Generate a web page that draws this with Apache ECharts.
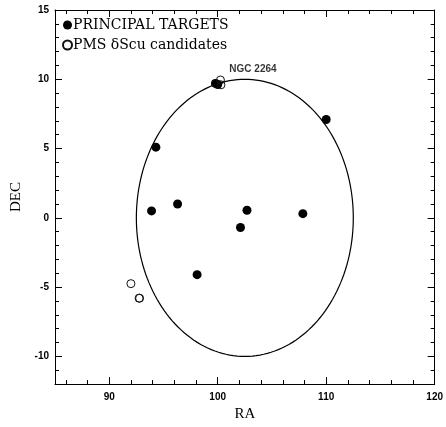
<!DOCTYPE html>
<html>
<head>
<meta charset="utf-8">
<script src="https://cdn.jsdelivr.net/npm/echarts@6/dist/echarts.min.js"></script>
<style>
  html, body { margin: 0; padding: 0; background: #fff; }
  #chart { width: 446px; height: 427px; }
</style>
</head>
<body>
<div id="chart"></div>
<script>
// principal targets [RA, DEC]
const principalTargets = [
  [94.3, 5.1], [93.9, 0.5], [96.3, 1.0], [98.1, -4.1],
  [102.1, -0.7], [102.7, 0.55], [107.85, 0.3], [110.0, 7.1],
  [99.8, 9.7], [100.0, 9.62]
]
// PMS delta Scuti candidates [RA, DEC]
const pmsCandidates = [
  [92.0, -4.75], [92.75, -5.8], [92.8, -5.8],
  [99.8, 9.7], [100.25, 9.95], [100.3, 9.6]
]
const ellipseCenter = [102.5, 0]
const ellipseRadius = [10, 10]
const clusterLabel = [[103.25, 10.7]]

const raTicks = [90, 100, 110, 120]
const raMinor = [86, 88, 92, 94, 96, 98, 102, 104, 106, 108, 112, 114, 116, 118]
const decTicks = [-10, -5, 0, 5, 10, 15]
const decMinor = [-11, -9, -8, -7, -6, -4, -3, -2, -1, 1, 2, 3, 4, 6, 7, 8, 9, 11, 12, 13, 14]

let chart = echarts.init(document.getElementById('chart'))

function xAxis (position, ticks, len, main) {
  return {
    type: 'value', position: position, min: 85, max: 120,
    name: main && position === 'bottom' ? 'RA' : '',
    nameLocation: 'middle', nameGap: 20,
    nameTextStyle: {fontFamily: 'Liberation Serif', fontSize: 15, color: '#000'},
    axisLine: {show: main, onZero: false, lineStyle: {color: '#000', width: 1}},
    axisTick: {show: true, inside: true, length: len, customValues: ticks, lineStyle: {color: '#000'}},
    axisLabel: {
      show: main && position === 'bottom', customValues: ticks, margin: 8,
      fontFamily: 'Liberation Sans', fontWeight: 'bold', fontSize: 10, color: '#000'
    },
    splitLine: {show: false}
  }
}

function yAxis (position, ticks, len, main) {
  return {
    type: 'value', position: position, min: -12, max: 15,
    name: main && position === 'left' ? 'DEC' : '',
    nameLocation: 'middle', nameGap: 30,
    nameTextStyle: {fontFamily: 'Liberation Serif', fontSize: 15, color: '#000'},
    axisLine: {show: main, onZero: false, lineStyle: {color: '#000', width: 1}},
    axisTick: {show: true, inside: true, length: len, customValues: ticks, lineStyle: {color: '#000'}},
    axisLabel: {
      show: main && position === 'left', customValues: ticks, margin: 6,
      fontFamily: 'Liberation Sans', fontWeight: 'bold', fontSize: 10, color: '#000'
    },
    splitLine: {show: false}
  }
}

let option = {
  backgroundColor: '#fff',
  animation: false,
  grid: {left: 55, right: 10, top: 10, bottom: 38},
  legend: {
    orient: 'vertical',
    left: 57,
    top: 13,
    itemWidth: 9,
    itemHeight: 9,
    itemGap: 6,
    textStyle: {fontFamily: 'DejaVu Serif', fontSize: 14, color: '#000', padding: [0, 0, 0, -4]},
    data: [
      {name: 'PRINCIPAL TARGETS', icon: 'circle'},
      {name: 'PMS δScu candidates', icon: 'circle'}
    ]
  },
  xAxis: [
    xAxis('bottom', raTicks, 7, true),
    xAxis('bottom', raMinor, 4, false),
    xAxis('top', raTicks, 7, true),
    xAxis('top', raMinor, 4, false)
  ],
  yAxis: [
    yAxis('left', decTicks, 7, true),
    yAxis('left', decMinor, 4, false),
    yAxis('right', decTicks, 7, true),
    yAxis('right', decMinor, 4, false)
  ],
  series: [
    {
      name: 'field',
      type: 'custom',
      z: 1,
      silent: true,
      data: [ellipseCenter],
      renderItem: function (params, api) {
        let c = api.coord([api.value(0), api.value(1)])
        let s = api.size(ellipseRadius)
        let pts = []
        for (let i = 0; i <= 180; i++) {
          let t = i / 180 * Math.PI * 2
          pts.push([c[0] + s[0] * Math.cos(t), c[1] + s[1] * Math.sin(t)])
        }
        return {
          type: 'polyline',
          shape: {points: pts},
          style: {stroke: '#000', lineWidth: 1.2, fill: null}
        }
      }
    },
    {
      name: 'PRINCIPAL TARGETS',
      type: 'scatter',
      z: 3,
      symbol: 'circle',
      symbolSize: 9,
      itemStyle: {color: '#000', opacity: 1},
      data: principalTargets
    },
    {
      name: 'PMS δScu candidates',
      type: 'scatter',
      z: 4,
      symbol: 'circle',
      symbolSize: 8,
      itemStyle: {color: 'rgba(255,255,255,0)', borderColor: '#111', borderWidth: 1, opacity: 1},
      data: pmsCandidates
    },
    {
      name: 'NGC 2264',
      type: 'scatter',
      z: 5,
      symbolSize: 0,
      silent: true,
      label: {
        show: true,
        position: 'inside',
        formatter: 'NGC 2264',
        fontFamily: 'Liberation Sans',
        fontWeight: 'bold',
        fontSize: 10,
        color: '#000'
      },
      data: clusterLabel
    }
  ]
}
chart.setOption(option)
</script>
</body>
</html>
